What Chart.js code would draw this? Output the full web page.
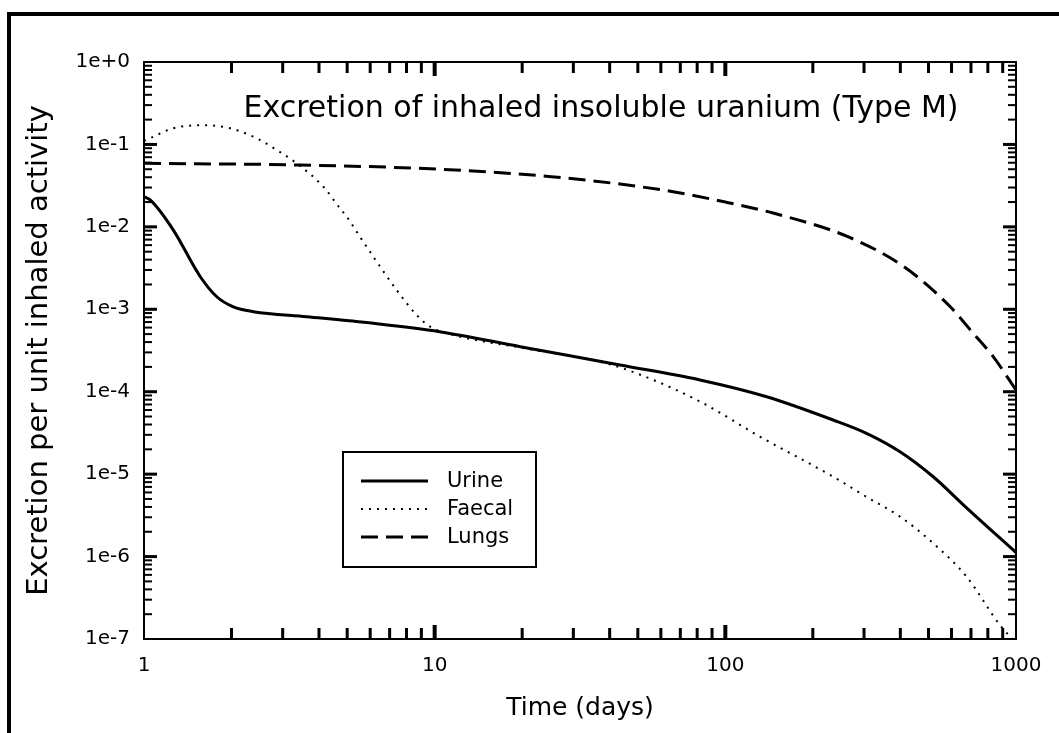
<!DOCTYPE html>
<html>
<head>
<meta charset="utf-8">
<title>Excretion of inhaled insoluble uranium</title>
<script src="https://cdn.jsdelivr.net/npm/chart.js@4.4.1/dist/chart.umd.min.js"></script>
<style>
  html, body { margin: 0; padding: 0; background: #fff; }
  #wrap { width: 1059px; height: 733px; }
</style>
</head>
<body>
<div id="wrap"><canvas id="excretionChart" width="1059" height="733"></canvas></div>
<script>
const xTickValues = [1, 10, 100, 1000];
const xTickLabels = ["1", "10", "100", "1000"];
const yTickValues = [1e-7, 1e-6, 1e-5, 1e-4, 1e-3, 1e-2, 1e-1, 1];
const yTickLabels = ["1e-7", "1e-6", "1e-5", "1e-4", "1e-3", "1e-2", "1e-1", "1e+0"];

const seriesNames = ["Urine", "Faecal", "Lungs"];

const urineDays = [1, 1.05, 1.26, 1.56, 1.78, 2.03, 2.38, 3.63, 6.15, 10.4, 19.7, 43.4, 81.8, 138.7, 235, 306, 399, 519, 676, 1000];
const urineValues = [0.0232, 0.0212, 0.0092, 0.0025, 0.00142, 0.00107, 0.000935, 0.000813, 0.000676, 0.000535, 0.000352, 0.000211, 0.000139, 0.000087, 0.0000454, 0.0000313, 0.0000187, 0.0000093, 0.0000039, 0.00000112];

const faecalDays = [1, 1.05, 1.26, 1.6, 1.98, 2.44, 2.86, 3.35, 4.14, 4.72, 4.98, 5.53, 6.15, 7.4, 8.67, 9.64, 11.6, 20, 39, 56.5, 84, 131.5, 235, 306, 399, 519, 676, 880, 1000];
const faecalValues = [0.11, 0.119, 0.157, 0.171, 0.157, 0.119, 0.0856, 0.059, 0.0307, 0.0168, 0.0133, 0.0076, 0.00435, 0.00171, 0.000853, 0.000615, 0.000488, 0.00034, 0.000221, 0.000139, 0.0000723, 0.0000285, 0.0000093, 0.0000053, 0.00000305, 0.00000145, 0.00000057, 0.000000148, 0.00000009];

const lungsDays = [1, 3.44, 10.4, 25.2, 60.8, 100, 147, 264, 411, 593, 713, 835, 1000];
const lungsValues = [0.059, 0.0563, 0.05, 0.0406, 0.028, 0.02, 0.0146, 0.0076, 0.00329, 0.00108, 0.00051, 0.000266, 0.000105];

const FONT = "'DejaVu Sans', sans-serif";

function toPoints(days, values) {
    return days.map((d, i) => ({ x: d, y: values[i] }));
}

// inward tick marks, plot frame, title, legend and outer border
const decorPlugin = {
    id: "decor",
    beforeDraw(chart) {
        const ctx = chart.ctx;
        ctx.save();
        ctx.fillStyle = "#fff";
        ctx.fillRect(0, 0, chart.width, chart.height);
        ctx.restore();
    },
    afterDraw(chart) {
        const { ctx, chartArea: a, scales } = chart;
        const xs = scales.x;
        const ys = scales.y;
        ctx.save();
        ctx.fillStyle = "#000";
        ctx.strokeStyle = "#000";

        // outer frame (left and top edge only visible)
        ctx.fillRect(7, 12, 4, chart.height - 12);
        ctx.fillRect(7, 12, chart.width - 7, 4);

        // plot box
        ctx.lineWidth = 2;
        ctx.strokeRect(a.left, a.top, a.right - a.left, a.bottom - a.top);

        // x ticks, bottom and top
        [1, 10, 100].forEach(dec => {
            for (let m = 1; m <= 9; m++) {
                const v = m * dec;
                if (v === 1) continue;
                const px = xs.getPixelForValue(v);
                const major = m === 1;
                const len = major ? 14 : 11;
                const w = major ? 4 : 3;
                ctx.fillRect(px - w / 2, a.bottom - len, w, len);
                ctx.fillRect(px - w / 2, a.top, w, len);
            }
        });

        // y ticks, left and right
        for (let e = -7; e <= -1; e++) {
            const dec = Math.pow(10, e);
            for (let m = 1; m <= 9; m++) {
                if (m === 1 && e === -7) continue;
                const py = ys.getPixelForValue(m * dec);
                const major = m === 1;
                const len = major ? 13 : 8;
                const h = major ? 3 : 2;
                ctx.fillRect(a.left, py - h / 2, len, h);
                ctx.fillRect(a.right - len, py - h / 2, len, h);
            }
        }

        // title inside plot
        ctx.font = "30px " + FONT;
        ctx.textAlign = "center";
        ctx.textBaseline = "alphabetic";
        ctx.fillText("Excretion of inhaled insoluble uranium (Type M)", 601, 117);

        // legend
        const box = { left: 343, top: 452, right: 536, bottom: 567 };
        ctx.lineWidth = 2;
        ctx.strokeRect(box.left, box.top, box.right - box.left, box.bottom - box.top);
        ctx.font = "21px " + FONT;
        ctx.textAlign = "left";
        ctx.textBaseline = "middle";
        chart.data.datasets.forEach((ds, i) => {
            const ly = 481 + i * 28;
            ctx.save();
            ctx.lineWidth = ds.borderWidth;
            ctx.setLineDash(ds.borderDash || []);
            ctx.beginPath();
            ctx.moveTo(361, ly);
            ctx.lineTo(428, ly);
            ctx.stroke();
            ctx.restore();
            ctx.fillText(ds.label, 447, ly + 1);
        });

        ctx.restore();
    }
};

document.addEventListener("DOMContentLoaded", () => {
    const canvas = document.getElementById("excretionChart");

    new Chart(canvas.getContext("2d"), {
        type: "line",
        data: {
            datasets: [
                {
                    label: seriesNames[0],
                    data: toPoints(urineDays, urineValues),
                    borderColor: "#000",
                    borderWidth: 3,
                    borderDash: [],
                },
                {
                    label: seriesNames[1],
                    data: toPoints(faecalDays, faecalValues),
                    borderColor: "#000",
                    borderWidth: 2,
                    borderDash: [2, 6],
                },
                {
                    label: seriesNames[2],
                    data: toPoints(lungsDays, lungsValues),
                    borderColor: "#000",
                    borderWidth: 3,
                    borderDash: [17, 8],
                }
            ]
        },
        options: {
            responsive: false,
            animation: false,
            layout: { padding: { top: 62, right: 43, left: 0, bottom: 0 } },
            elements: {
                point: { radius: 0 },
                line: { cubicInterpolationMode: "monotone", fill: false, borderCapStyle: "butt" }
            },
            plugins: {
                legend: { display: false },
                tooltip: { enabled: false }
            },
            scales: {
                x: {
                    type: "logarithmic",
                    min: 1,
                    max: 1000,
                    grid: { display: false },
                    border: { display: false },
                    afterBuildTicks: scale => { scale.ticks = xTickValues.map(v => ({ value: v })); },
                    afterFit: scale => { scale.height = 94; },
                    ticks: {
                        autoSkip: false,
                        maxRotation: 0,
                        padding: 7,
                        color: "#000",
                        font: { family: FONT, size: 20 },
                        callback: (v, i) => xTickLabels[i]
                    },
                    title: {
                        display: true,
                        text: "Time (days)",
                        color: "#000",
                        font: { family: FONT, size: 25 },
                        padding: { top: 0, bottom: 10 }
                    }
                },
                y: {
                    type: "logarithmic",
                    min: 1e-7,
                    max: 1,
                    grid: { display: false },
                    border: { display: false },
                    afterBuildTicks: scale => { scale.ticks = yTickValues.map(v => ({ value: v })); },
                    afterFit: scale => { scale.width = 144; },
                    ticks: {
                        autoSkip: false,
                        padding: 6,
                        color: "#000",
                        font: { family: FONT, size: 20 },
                        callback: (v, i) => yTickLabels[i]
                    },
                    title: {
                        display: true,
                        text: "Excretion per unit inhaled activity",
                        color: "#000",
                        font: { family: FONT, size: 29 },
                        padding: { top: 22, bottom: 0 }
                    }
                }
            }
        },
        plugins: [decorPlugin]
    });
});
</script>
</body>
</html>
